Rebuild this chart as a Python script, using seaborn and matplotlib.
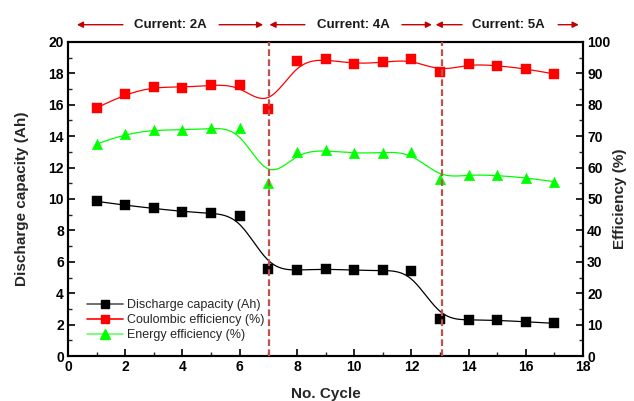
import numpy as np
import matplotlib
matplotlib.use("Agg")
import matplotlib.pyplot as plt
from matplotlib.lines import Line2D
from matplotlib.ticker import MultipleLocator
import seaborn as sns

# data
cycles = [1, 2, 3, 4, 5, 6, 7, 8, 9, 10, 11, 12, 13, 14, 15, 16, 17]
capacity = [9.85, 9.6, 9.4, 9.2, 9.1, 8.9, 5.55, 5.45, 5.55, 5.45, 5.45, 5.4,
            2.35, 2.3, 2.28, 2.18, 2.08]
coulombic = [79.0, 83.5, 85.8, 85.5, 86.3, 86.3, 78.5, 93.8, 94.5, 93.0, 93.5, 94.5,
             90.5, 93.0, 92.5, 91.5, 89.8]
energy = [67.5, 70.8, 72.0, 72.0, 72.5, 72.5, 55.0, 65.0, 65.5, 64.5, 64.8, 65.0,
          56.5, 57.8, 57.5, 56.8, 55.5]

current_labels = ["Current: 2A", "Current: 4A", "Current: 5A"]
label_x = [3.58, 9.96, 15.4]
# (tail, head) of each arrow, in cycle units
arrows = [(1.92, 0.31), (5.28, 6.82), (8.28, 7.04), (11.67, 12.72), (13.77, 12.85), (17.13, 17.85)]
switch_x = [7.04, 13.07]


def bspline(xs, ys, k=3, n=400):
    # clamped uniform B-spline using the points as control points (Origin-style smoothing)
    cx = np.asarray(xs, float)
    cy = np.asarray(ys, float)
    m = len(cx)
    knots = np.concatenate([np.zeros(k), np.arange(m - k + 1), np.full(k, m - k)]).astype(float)
    t = np.linspace(0, m - k, n)
    nb = len(knots) - 1
    B = np.zeros((n, nb))
    for i in range(nb):
        B[:, i] = (knots[i] <= t) & (t < knots[i + 1])
    B[-1, m - 1] = 1.0
    for d in range(1, k + 1):
        Bn = np.zeros((n, nb - d))
        for i in range(nb - d):
            left = 0.0
            right = 0.0
            den = knots[i + d] - knots[i]
            if den > 0:
                left = (t - knots[i]) / den * B[:, i]
            den = knots[i + d + 1] - knots[i + 1]
            if den > 0:
                right = (knots[i + d + 1] - t) / den * B[:, i + 1]
            Bn[:, i] = left + right
        B = Bn
    return B @ cx, B @ cy


sns.set_style("white")
plt.rcParams['font.family'] = ['Liberation Sans', 'DejaVu Sans']

fig = plt.figure(figsize=(6.34, 4.01), dpi=100)
ax = fig.add_axes([0.1073, 0.1122, 0.8123, 0.7831])
ax2 = ax.twinx()

red = "#FF0000"
green = "#00FF00"
dash_col = "#C0504D"
arrow_col = "#C00000"

# capacity on left axis
sx, sy = bspline(cycles, capacity)
sns.lineplot(x=sx, y=sy, ax=ax, color="black", lw=0.9, sort=False, estimator=None)
sns.scatterplot(x=cycles, y=capacity, ax=ax, marker="s", s=42, color="black",
                edgecolor="black", linewidth=0.3, zorder=3)

# efficiencies on right axis
for vals, col, mk, sz in [(coulombic, red, "s", 42), (energy, green, "^", 58)]:
    sx, sy = bspline(cycles, vals)
    sns.lineplot(x=sx, y=sy, ax=ax2, color=col, lw=0.9, sort=False, estimator=None)
    sns.scatterplot(x=cycles, y=vals, ax=ax2, marker=mk, s=sz, color=col,
                    edgecolor=col, linewidth=0.3, zorder=3)

for xv in switch_x:
    ax2.axvline(xv, color=dash_col, lw=1.6, ls=(0, (3, 1.5)), zorder=4)

ax.set_xlim(0, 18)
ax.set_ylim(0, 20)
ax2.set_ylim(0, 100)
ax.xaxis.set_major_locator(MultipleLocator(2))
ax.xaxis.set_minor_locator(MultipleLocator(1))
ax.yaxis.set_major_locator(MultipleLocator(2))
ax.yaxis.set_minor_locator(MultipleLocator(1))
ax2.yaxis.set_major_locator(MultipleLocator(10))
ax2.yaxis.set_minor_locator(MultipleLocator(5))

for a in (ax, ax2):
    for sp in a.spines.values():
        sp.set_visible(True)
        sp.set_color("black")
        sp.set_linewidth(1.5)
    a.tick_params(which="major", direction="in", length=5, width=1.2, labelsize=10,
                  colors="black", pad=3)
    a.tick_params(which="minor", direction="in", length=3, width=1.0)
    for lab in a.get_xticklabels() + a.get_yticklabels():
        lab.set_fontweight("bold")
ax.tick_params(axis="x", which="both", bottom=True, top=False)
ax.tick_params(axis="y", which="both", left=True, right=False)
ax2.tick_params(axis="y", which="both", right=True, left=False)
ax2.tick_params(axis="x", which="both", top=False, bottom=False)

ax.set_xlabel("No. Cycle", fontsize=11, fontweight="bold", labelpad=9)
ax.set_ylabel("Discharge capacity (Ah)", fontsize=11, fontweight="bold", labelpad=14)
ax2.set_ylabel("Efficiency (%)", fontsize=11, fontweight="bold", labelpad=2)

# current regimes above the plot
trans = ax.get_xaxis_transform()
arrow_y = 1.055
for txt, xv in zip(current_labels, label_x):
    ax.text(xv, arrow_y, txt, transform=trans, ha="center", va="center",
            fontsize=9.5, fontweight="bold", color="#1a1a1a")
for tail, head in arrows:
    ax.annotate("", xy=(head, arrow_y), xytext=(tail, arrow_y), xycoords=trans,
                textcoords=trans, annotation_clip=False,
                arrowprops=dict(arrowstyle="-|>", color=arrow_col, lw=1.0,
                                mutation_scale=9, shrinkA=0, shrinkB=0))

handles = [
    Line2D([], [], color="#555555", lw=1.2, marker="s", ms=6, mfc="black", mec="black"),
    Line2D([], [], color=red, lw=1.2, marker="s", ms=6, mfc=red, mec=red),
    Line2D([], [], color="#66FF66", lw=1.2, marker="^", ms=7, mfc=green, mec=green),
]
ax2.legend(handles, ["Discharge capacity (Ah)", "Coulombic efficiency (%)", "Energy efficiency (%)"],
           loc="lower left", bbox_to_anchor=(0.02, 0.02), frameon=False, fontsize=9,
           handlelength=2.9, handletextpad=0.3, labelspacing=0.22, borderpad=0.2)

fig.savefig("out.png", dpi=100)
